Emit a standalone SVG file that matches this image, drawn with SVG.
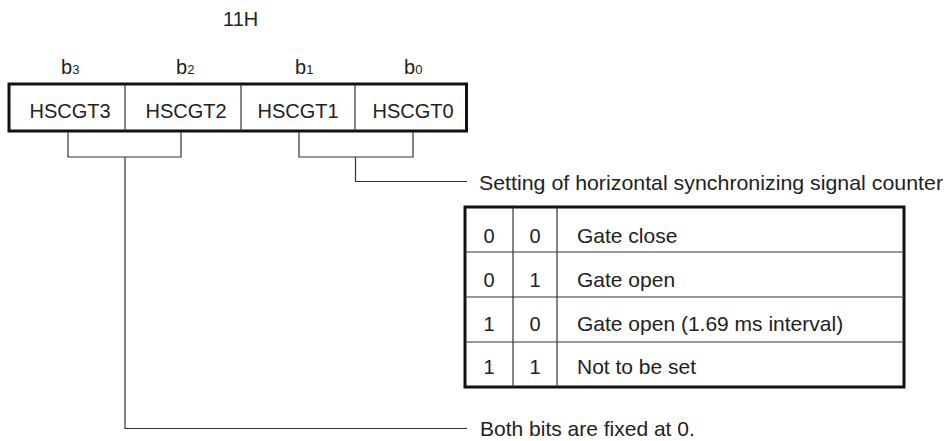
<svg xmlns="http://www.w3.org/2000/svg" width="946" height="441" viewBox="0 0 946 441">
<style>
text{font-family:"Liberation Sans",Arial,sans-serif;fill:#222;}
.t{font-size:20px;}
.d{font-size:21px;}
.sub{font-size:13px;}
.thick{fill:none;stroke:#111;stroke-width:3;}
.thin{fill:none;stroke:#333;stroke-width:1.2;}
</style>
<rect width="946" height="441" fill="#fff"/>
<text class="t" x="223" y="26">11H</text>
<g id="bitlabels">
<text class="t" x="61" y="74">b<tspan class="sub">3</tspan></text>
<text class="t" x="176" y="74">b<tspan class="sub">2</tspan></text>
<text class="t" x="295" y="74">b<tspan class="sub">1</tspan></text>
<text class="t" x="404" y="74">b<tspan class="sub">0</tspan></text>
</g>
<g id="register">
<rect class="thick" x="9" y="84" width="457.5" height="47"/>
<line class="thin" x1="125" y1="84" x2="125" y2="131"/>
<line class="thin" x1="241" y1="84" x2="241" y2="131"/>
<line class="thin" x1="355" y1="84" x2="355" y2="131"/>
<text class="t" x="70" y="117.5" text-anchor="middle">HSCGT3</text>
<text class="t" x="186" y="117.5" text-anchor="middle">HSCGT2</text>
<text class="t" x="298" y="117.5" text-anchor="middle">HSCGT1</text>
<text class="t" x="413" y="117.5" text-anchor="middle">HSCGT0</text>
</g>
<g id="connectors">
<polyline class="thin" points="68,132 68,157 181,157 181,132"/>
<polyline class="thin" points="125,157 125,428.5 467,428.5"/>
<polyline class="thin" points="299,132 299,157 413,157 413,132"/>
<polyline class="thin" points="355.5,157 355.5,181.5 467,181.5"/>
</g>
<g id="label-setting">
<text class="d" x="479" y="190" textLength="464" lengthAdjust="spacingAndGlyphs">Setting of horizontal synchronizing signal counter</text>
</g>
<g id="table">
<rect class="thick" x="465" y="207" width="439" height="180"/>
<line class="thin" x1="465" y1="252" x2="904" y2="252"/>
<line class="thin" x1="465" y1="297" x2="904" y2="297"/>
<line class="thin" x1="465" y1="342" x2="904" y2="342"/>
<line class="thin" x1="513" y1="207" x2="513" y2="387"/>
<line class="thin" x1="557" y1="207" x2="557" y2="387" stroke="#666"/>
<text class="t" x="489" y="243" text-anchor="middle">0</text>
<text class="t" x="535" y="243" text-anchor="middle">0</text>
<text class="d" x="577" y="243">Gate close</text>
<text class="t" x="489" y="287" text-anchor="middle">0</text>
<text class="t" x="535" y="287" text-anchor="middle">1</text>
<text class="d" x="577" y="287">Gate open</text>
<text class="t" x="489" y="331" text-anchor="middle">1</text>
<text class="t" x="535" y="331" text-anchor="middle">0</text>
<text class="d" x="577" y="331">Gate open (1.69 ms interval)</text>
<text class="t" x="489" y="374" text-anchor="middle">1</text>
<text class="t" x="535" y="374" text-anchor="middle">1</text>
<text class="d" x="577" y="374">Not to be set</text>
</g>
<g id="label-fixed">
<text class="d" x="480" y="436">Both bits are fixed at 0.</text>
</g>
</svg>
